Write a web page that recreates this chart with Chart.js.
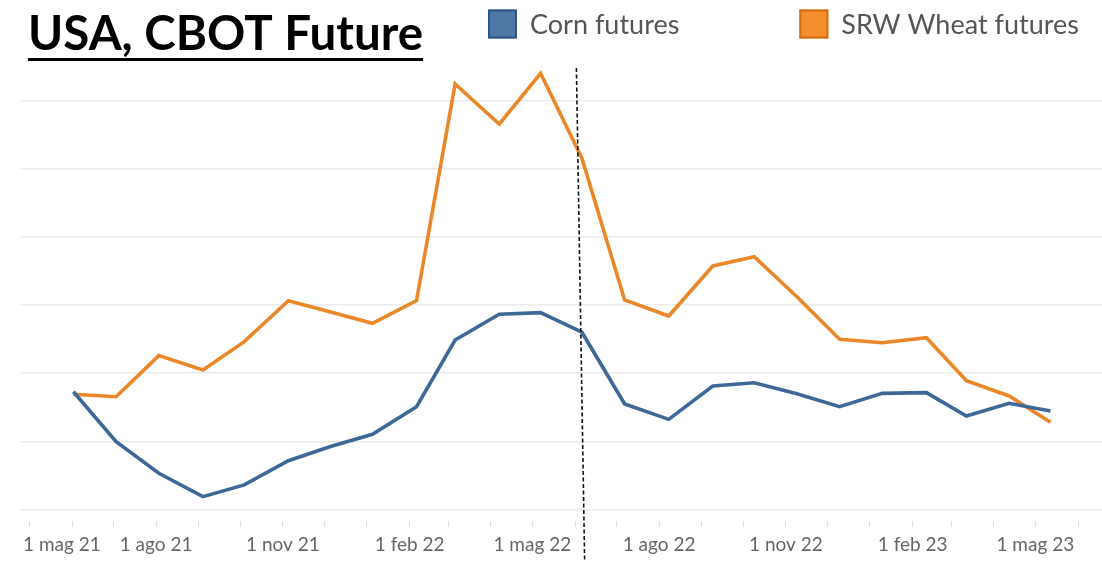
<!DOCTYPE html>
<html><head><meta charset="utf-8">
<script src="https://cdn.jsdelivr.net/npm/chart.js@4.4.1/dist/chart.umd.min.js"></script>
<style>html,body{margin:0;padding:0;background:#fff}canvas{display:block}</style>
</head><body>
<canvas id="c" width="1102" height="562"></canvas>
<script>
// ---------- data ----------
const chartTitle = 'USA, CBOT Future';
const seriesNames = ['Corn futures', 'SRW Wheat futures'];
const pointDates = [
  '2021-06-02','2021-07-03','2021-08-03','2021-09-04','2021-10-04','2021-11-05',
  '2021-12-05','2022-01-05','2022-02-06','2022-03-06','2022-04-07','2022-05-07',
  '2022-06-06','2022-07-07','2022-08-08','2022-09-09','2022-10-09','2022-11-09',
  '2022-12-10','2023-01-10','2023-02-11','2023-03-12','2023-04-12','2023-05-12'
];
const cornValues = [
  236.4, 199.7, 176.5, 159.3, 167.9, 185.7, 196.0, 205.1, 225.4, 274.4, 293.3, 294.5,
  280.1, 227.4, 216.1, 240.6, 243.0, 234.9, 225.4, 235.2, 235.7, 218.6, 227.9, 222.2
];
const wheatValues = [
  234.5, 232.7, 262.9, 252.4, 273.2, 303.3, 295.2, 286.7, 303.3, 462.5, 433.1, 470.4,
  408.0, 303.8, 292.0, 328.8, 335.6, 306.2, 274.9, 272.4, 276.1, 244.5, 233.3, 213.9
];
const monthNames = ['gen','feb','mar','apr','mag','giu','lug','ago','set','ott','nov','dic'];
const labeledMonths = [1, 4, 7, 10];
const gridValues = [150, 200, 250, 300, 350, 400, 450];
const markerDates = ['2022-06-02', '2022-06-08']; // dashed marker: top, bottom

// ---------- helpers ----------
const ORIGIN = Date.UTC(2021, 4, 1);
const DAY = 86400000;
function toDay(s) {
  const [y, m, d] = s.split('-').map(Number);
  return (Date.UTC(y, m - 1, d) - ORIGIN) / DAY;
}
function dayToDate(v) { return new Date(ORIGIN + v * DAY); }

const cornData = pointDates.map((d, i) => ({x: toDay(d), y: cornValues[i]}));
const wheatData = pointDates.map((d, i) => ({x: toDay(d), y: wheatValues[i]}));

const COLORS = {
  cornLine: '#3e6996', cornFill: '#4e79a7', cornEdge: '#2c5583',
  wheatLine: '#ea8829', wheatFill: '#f28e2b', wheatEdge: '#d2701a'
};
const LEGEND = {x: 488, y: 9.5, box: 29, gap: 120, font: '27px Lato', color: '#555'};

// ---------- plugins ----------
const layoutTweaks = {
  id: 'layoutTweaks',
  afterLayout(chart) {
    const tb = chart.titleBlock;
    if (tb) { tb.left = 28; }
  },
  beforeDraw(chart) {
    const xs = chart.scales.x;
    const items = xs.getLabelItems();
    const first = items.find(it => it.label && it.label !== '');
    if (first && !first._fixed) {
      first.options.textAlign = 'left';
      first.options.translation[0] = chart.chartArea.left + 3;
      first._fixed = true;
    }
  },
  afterDatasetsDraw(chart) {
    const {ctx, chartArea} = chart;
    const xs = chart.scales.x;
    const xTop = xs.getPixelForValue(toDay(markerDates[0]));
    const xBot = xs.getPixelForValue(toDay(markerDates[1]));
    ctx.save();
    ctx.strokeStyle = '#111';
    ctx.lineWidth = 1.6;
    ctx.setLineDash([4, 2.5]);
    ctx.beginPath();
    ctx.moveTo(xTop, chartArea.top + 1);
    ctx.lineTo(xBot, chart.height);
    ctx.stroke();
    ctx.restore();
  },
  afterDraw(chart) {
    const {ctx} = chart;
    // underline of the title
    const tb = chart.titleBlock;
    if (tb) {
      ctx.save();
      ctx.font = Chart.helpers.toFont(tb.options.font).string;
      const w = ctx.measureText(tb.options.text).width;
      ctx.fillStyle = '#000';
      ctx.fillRect(tb.left, tb.top + tb.height - 9, w, 3);
      ctx.restore();
    }
    // legend (one row, square swatches)
    ctx.save();
    ctx.font = LEGEND.font;
    ctx.textBaseline = 'middle';
    ctx.textAlign = 'left';
    let x = LEGEND.x;
    const edges = [COLORS.cornEdge, COLORS.wheatEdge];
    chart.data.datasets.forEach((ds, i) => {
      ctx.fillStyle = ds.backgroundColor;
      ctx.fillRect(x, LEGEND.y, LEGEND.box, LEGEND.box);
      ctx.strokeStyle = edges[i];
      ctx.lineWidth = 2;
      ctx.strokeRect(x + 1, LEGEND.y + 1, LEGEND.box - 2, LEGEND.box - 2);
      const tx = x + LEGEND.box + 13;
      ctx.fillStyle = LEGEND.color;
      ctx.fillText(ds.label, tx, LEGEND.y + LEGEND.box / 2 + 1);
      x = tx + ctx.measureText(ds.label).width + LEGEND.gap;
    });
    ctx.restore();
  }
};

// ---------- chart ----------
new Chart(document.getElementById('c'), {
  type: 'line',
  data: {
    datasets: [
      {
        label: seriesNames[0], data: cornData,
        borderColor: COLORS.cornLine, backgroundColor: COLORS.cornFill,
        borderWidth: 3.6, pointRadius: 0, tension: 0, fill: false
      },
      {
        label: seriesNames[1], data: wheatData,
        borderColor: COLORS.wheatLine, backgroundColor: COLORS.wheatFill,
        borderWidth: 3.6, pointRadius: 0, tension: 0, fill: false
      }
    ]
  },
  options: {
    responsive: false,
    animation: false,
    devicePixelRatio: 1,
    layout: {padding: {left: 20, right: 0, top: 0, bottom: 0}},
    plugins: {
      title: {
        display: true,
        text: chartTitle,
        align: 'start',
        color: '#000',
        font: {family: 'Lato', weight: 'bold', size: 47.5, lineHeight: 1.2},
        padding: {top: 6.5, bottom: 3.5}
      },
      legend: {display: false},
      tooltip: {enabled: false}
    },
    scales: {
      x: {
        type: 'linear',
        min: -6.75,
        max: 778.4,
        border: {display: false},
        grid: {
          drawOnChartArea: false, drawTicks: true, tickLength: 18,
          tickColor: '#e2e2e2', tickWidth: 1, tickBorderDash: [0, 12, 6, 100]
        },
        afterBuildTicks(scale) {
          const ticks = [];
          for (let y = 2021; y <= 2023; y++) {
            for (let m = 0; m < 12; m++) {
              const v = (Date.UTC(y, m, 1) - ORIGIN) / DAY;
              if (v >= scale.min && v <= scale.max) ticks.push({value: v});
            }
          }
          scale.ticks = ticks;
        },
        afterFit(scale) { scale.paddingLeft = 0; scale.paddingRight = 0; scale.height = 52.7; },
        ticks: {
          autoSkip: false, maxRotation: 0, padding: 6,
          color: '#666',
          font: {family: 'Lato', size: 19},
          callback(value) {
            const d = dayToDate(value);
            const m = d.getUTCMonth();
            if (!labeledMonths.includes(m)) return '';
            return '1 ' + monthNames[m] + ' ' + String(d.getUTCFullYear()).slice(2);
          }
        }
      },
      y: {
        min: 150,
        max: 475,
        border: {display: false},
        grid: {color: '#ececec', lineWidth: 1.5, drawTicks: false},
        afterBuildTicks(scale) { scale.ticks = gridValues.map(v => ({value: v})); },
        afterFit(scale) { scale.width = 0; },
        ticks: {display: false}
      }
    }
  },
  plugins: [layoutTweaks]
});
</script>
</body></html>
